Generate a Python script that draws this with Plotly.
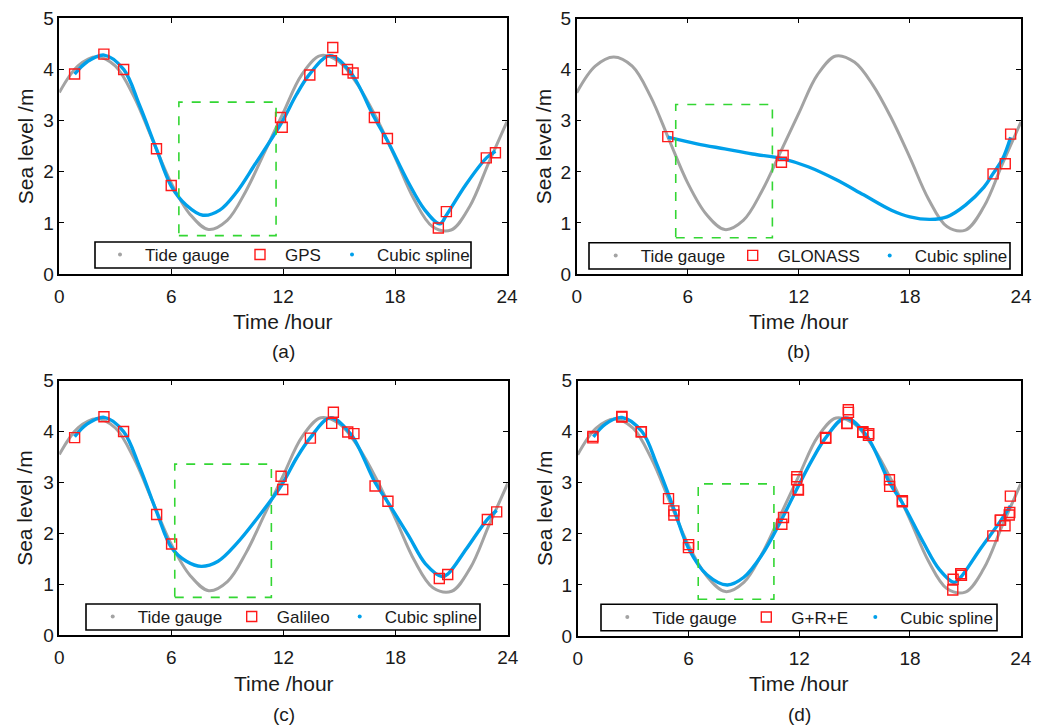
import plotly.graph_objects as go

# ---------------- data ----------------
tide_t = list(range(0, 25))
tide_v = [3.55, 4.07, 4.25, 4.07, 3.47, 2.62, 1.78, 1.17, 0.87, 1.05, 1.62, 2.38, 3.15,
          3.90, 4.27, 4.15, 3.70, 3.05, 2.28, 1.47, 0.93, 0.86, 1.32, 2.16, 2.98]

gps_t = [0.82, 2.39, 3.45, 5.21, 6.00, 11.86, 11.95, 13.43, 14.59, 14.66, 15.45, 15.75,
         16.89, 17.59, 20.32, 20.75, 22.89, 23.38]
gps_v = [3.91, 4.30, 4.00, 2.45, 1.73, 3.06, 2.87, 3.89, 4.17, 4.43, 4.00, 3.93,
         3.06, 2.65, 0.90, 1.22, 2.27, 2.37]
gps_spl_t = [0.82, 1.5, 2.4, 3.45, 4.3, 5.2, 6.0, 6.8, 7.7, 8.6, 9.5, 10.5, 11.9, 12.7,
             13.4, 14.5, 15.6, 16.9, 17.6, 18.7, 19.6, 20.4, 20.75, 21.8, 22.9, 23.38]
gps_spl_v = [3.91, 4.15, 4.28, 4.00, 3.30, 2.45, 1.72, 1.35, 1.15, 1.25, 1.60, 2.15, 2.95, 3.50,
             3.90, 4.27, 3.95, 3.05, 2.60, 1.80, 1.25, 0.98, 1.15, 1.75, 2.27, 2.40]

glo_t = [4.92, 11.15, 11.06, 22.49, 23.15, 23.44]
glo_v = [2.69, 2.32, 2.19, 1.96, 2.16, 2.74]
glo_spl_t = [4.92, 6.5, 8.0, 9.5, 11.1, 12.5, 14.0, 15.5, 17.0, 18.0, 19.1, 20.0, 21.0, 22.0, 22.5, 23.0, 23.44]
glo_spl_v = [2.68, 2.55, 2.45, 2.35, 2.26, 2.10, 1.85, 1.55, 1.25, 1.12, 1.07, 1.12, 1.35, 1.70, 1.97, 2.25, 2.68]

gal_t = [0.82, 2.39, 3.44, 5.21, 6.01, 11.87, 11.96, 13.44, 14.58, 14.67, 15.44, 15.77,
         16.90, 17.59, 20.34, 20.79, 22.91, 23.41]
gal_v = [3.88, 4.29, 4.00, 2.37, 1.79, 3.12, 2.86, 3.87, 4.16, 4.38, 3.99, 3.96,
         2.93, 2.63, 1.11, 1.19, 2.27, 2.42]
gal_spl_t = [0.82, 1.5, 2.4, 3.44, 4.3, 5.21, 6.0, 6.8, 7.6, 8.5, 9.5, 10.5, 11.9, 12.7,
             13.44, 14.5, 15.6, 16.9, 17.6, 18.7, 19.6, 20.5, 20.8, 21.8, 22.9, 23.41]
gal_spl_v = [3.90, 4.15, 4.28, 4.00, 3.30, 2.42, 1.72, 1.45, 1.35, 1.45, 1.80, 2.25, 2.95, 3.48,
             3.88, 4.27, 3.95, 3.00, 2.60, 1.95, 1.40, 1.15, 1.20, 1.70, 2.27, 2.45]

gre_t = gps_t + glo_t + gal_t
gre_v = gps_v + glo_v + gal_v
gre_spl_t = [0.85, 1.5, 2.4, 3.49, 4.3, 5.2, 6.0, 7.0, 8.1, 9.0, 10.0, 11.0, 11.9, 12.7,
             13.43, 14.5, 15.6, 16.9, 17.6, 18.7, 19.6, 20.4, 20.75, 21.8, 22.9, 23.44]
gre_spl_v = [3.90, 4.15, 4.28, 4.00, 3.35, 2.50, 1.72, 1.20, 1.00, 1.15, 1.60, 2.25, 2.90, 3.45,
             3.88, 4.27, 3.95, 3.00, 2.60, 1.85, 1.30, 1.05, 1.15, 1.70, 2.25, 2.55]

# highlighted windows [x0, x1, y0, y1]
boxes = [[6.41, 11.62, 0.75, 3.36], [5.35, 10.57, 0.71, 3.32],
         [6.18, 11.35, 0.74, 3.36], [6.53, 10.63, 0.72, 2.98]]

names = ["GPS", "GLONASS", "Galileo", "G+R+E"]
captions = ["(a)", "(b)", "(c)", "(d)"]
x_ticks = [0, 6, 12, 18, 24]
y_ticks = [0, 1, 2, 3, 4, 5]

# ---------------- styling / layout ----------------
W, H = 1045, 725
GRAY = "#a3a3a3"
BLUE = "#00a0ea"
RED = "#ff1a1a"
GREEN = "#33d633"
FONT = "Liberation Sans, Arial, sans-serif"
TXT = "#1a1a1a"

# pixel boxes of plot areas: left, right, top, bottom
areas = [(59.3, 507.0, 18.3, 274.0), (576.7, 1021.0, 18.7, 274.0),
         (59.3, 507.7, 380.7, 635.0), (577.7, 1020.7, 380.7, 636.0)]
# legend frames: left, right, top, bottom (pixels) and first-symbol x
legend_box = [(95, 471, 242, 268), (589, 1010, 242.7, 269),
              (86, 480, 604, 630), (601, 997, 604.3, 630.7)]
legend_dot = [120, 615.7, 112.7, 627.3]
legend_w = [(85, 37, 95), (82, 82, 95), (84, 53, 95), (84, 54, 95)]
ITEMW = 40
xtitle_y = [321.7, 321.7, 683.5, 683.5]
cap_y = [352, 352, 714, 714]
ytitle_x = [25, 543, 25, 544.7]

series = [(gps_t, gps_v, gps_spl_t, gps_spl_v), (glo_t, glo_v, glo_spl_t, glo_spl_v),
          (gal_t, gal_v, gal_spl_t, gal_spl_v), (gre_t, gre_v, gre_spl_t, gre_spl_v)]

fig = go.Figure()
annotations = []
shapes = []
layout = {}

for i in range(4):
    sfx = "" if i == 0 else str(i + 1)
    xa, ya = "x" + sfx, "y" + sfx
    lg = "legend" + sfx
    l, r, t, b = areas[i]
    mt, mv, st, sv = series[i]

    fig.add_trace(go.Scatter(x=tide_t, y=tide_v, mode="lines", line=dict(color=GRAY, width=3, shape="spline", smoothing=1.0),
                             xaxis=xa, yaxis=ya, showlegend=False, hoverinfo="skip"))
    fig.add_trace(go.Scatter(x=st, y=sv, mode="lines", line=dict(color=BLUE, width=3.4, shape="spline", smoothing=1.0),
                             xaxis=xa, yaxis=ya, showlegend=False, hoverinfo="skip"))
    # legend entries
    fig.add_trace(go.Scatter(x=[None], y=[None], mode="markers", name="Tide gauge",
                             marker=dict(color=GRAY, size=4), xaxis=xa, yaxis=ya, legend=lg,
                             legendwidth=legend_w[i][0]))
    fig.add_trace(go.Scatter(x=mt, y=mv, mode="markers", name=names[i],
                             marker=dict(symbol="square-open", color=RED, size=10, line=dict(width=1.4, color=RED)),
                             xaxis=xa, yaxis=ya, legend=lg, legendwidth=legend_w[i][1]))
    fig.add_trace(go.Scatter(x=[None], y=[None], mode="markers", name="Cubic spline",
                             marker=dict(color=BLUE, size=4), xaxis=xa, yaxis=ya, legend=lg,
                             legendwidth=legend_w[i][2]))

    axcommon = dict(showline=True, linecolor="black", linewidth=1.5, mirror="ticks",
                    ticks="inside", ticklen=5, tickwidth=1.3, tickcolor="black",
                    showgrid=False, zeroline=False, fixedrange=True, automargin=False,
                    tickfont=dict(family=FONT, size=19, color=TXT))
    layout["xaxis" + sfx] = dict(axcommon, domain=[l / W, r / W], range=[0, 24], tickvals=x_ticks,
                                 anchor=ya, ticklabelstandoff=4)
    layout["yaxis" + sfx] = dict(axcommon, domain=[1 - b / H, 1 - t / H], range=[0, 5], tickvals=y_ticks,
                                 anchor=xa, ticklabelstandoff=0)

    bl, br, bt, bb = legend_box[i]
    shapes.append(dict(type="rect", xref="paper", yref="paper", x0=bl / W, x1=br / W,
                       y0=1 - bb / H, y1=1 - bt / H, fillcolor="white",
                       line=dict(color="black", width=1.6), layer="above"))
    layout[lg] = dict(x=(legend_dot[i] - (ITEMW + 10) / 2) / W, y=1 - (bt + bb) / 2 / H,
                      xanchor="left", yanchor="middle",
                      orientation="h", bgcolor="rgba(0,0,0,0)", borderwidth=0, itemwidth=ITEMW,
                      font=dict(family=FONT, size=17, color=TXT), itemclick=False, itemdoubleclick=False,
                      tracegroupgap=0)

    x0, x1, y0, y1 = boxes[i]
    shapes.append(dict(type="rect", xref=xa, yref=ya, x0=x0, x1=x1, y0=y0, y1=y1,
                       line=dict(color=GREEN, width=1.6, dash="dash"), layer="above"))

    cx = (l + r) / 2 / W
    annotations.append(dict(text="Time /hour", x=cx, y=1 - xtitle_y[i] / H, xref="paper", yref="paper",
                            showarrow=False, xanchor="center", yanchor="middle",
                            font=dict(family=FONT, size=21, color=TXT)))
    annotations.append(dict(text=captions[i], x=cx, y=1 - cap_y[i] / H, xref="paper", yref="paper",
                            showarrow=False, xanchor="center", yanchor="middle",
                            font=dict(family=FONT, size=19, color=TXT)))
    annotations.append(dict(text="Sea level /m", x=ytitle_x[i] / W, y=1 - (t + b) / 2 / H,
                            xref="paper", yref="paper", showarrow=False, textangle=-90,
                            xanchor="center", yanchor="middle",
                            font=dict(family=FONT, size=21, color=TXT)))

fig.update_layout(width=W, height=H, margin=dict(l=0, r=0, t=0, b=0, pad=0, autoexpand=False),
                  paper_bgcolor="white", plot_bgcolor="white",
                  annotations=annotations, shapes=shapes, **layout)

fig.write_html("out.html")
